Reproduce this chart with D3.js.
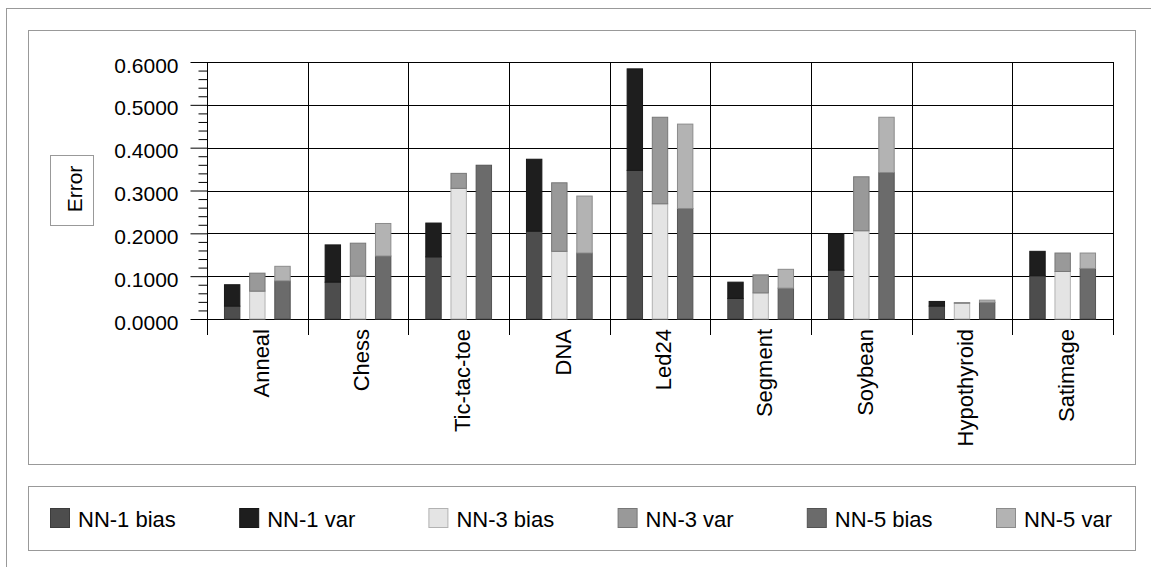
<!DOCTYPE html>
<html>
<head>
<meta charset="utf-8">
<script src="https://cdn.jsdelivr.net/npm/d3@7/dist/d3.min.js"></script>
<style>
  body { margin: 0; background: #fff; }
  svg { display: block; font-family: "Liberation Sans", Arial, sans-serif; }
</style>
</head>
<body>
<svg id="chart" width="1151" height="567"></svg>
<script>
/* datasets along the x axis */
var categories = ["Anneal", "Chess", "Tic-tac-toe", "DNA", "Led24",
	"Segment", "Soybean", "Hypothyroid", "Satimage"];

/* bias and variance parts of the error, one array per series */
var nn1Bias = [0.030, 0.086, 0.145, 0.205, 0.347, 0.048, 0.114, 0.030, 0.101];
var nn1Var  = [0.050, 0.087, 0.079, 0.168, 0.237, 0.038, 0.085, 0.011, 0.057];
var nn3Bias = [0.065, 0.100, 0.305, 0.158, 0.269, 0.061, 0.206, 0.037, 0.111];
var nn3Var  = [0.042, 0.077, 0.035, 0.160, 0.202, 0.042, 0.126, 0.001, 0.043];
var nn5Bias = [0.089, 0.147, 0.359, 0.154, 0.258, 0.072, 0.342, 0.039, 0.118];
var nn5Var  = [0.034, 0.076, 0.000, 0.133, 0.197, 0.044, 0.129, 0.005, 0.036];

var yTicks = [0, 0.1, 0.2, 0.3, 0.4, 0.5, 0.6];
var seriesNames = ["NN-1 bias", "NN-1 var", "NN-3 bias", "NN-3 var", "NN-5 bias", "NN-5 var"];
var seriesColors = ["#4d4d4d", "#1e1e1e", "#e4e4e4", "#999999", "#6b6b6b", "#b3b3b3"];

/* three stacked columns per dataset */
var groups = [
	{bias: nn1Bias, vari: nn1Var, c: 0},
	{bias: nn3Bias, vari: nn3Var, c: 2},
	{bias: nn5Bias, vari: nn5Var, c: 4}
];

var svg = d3.select("#chart");

/* frames around the chart and the legend */
svg.append("rect").attr("x", 6.5).attr("y", 8.5).attr("width", 1160).attr("height", 600)
	.style("fill", "none").style("stroke", "#999");
svg.append("rect").attr("x", 28.5).attr("y", 30.5).attr("width", 1107).attr("height", 434)
	.style("fill", "none").style("stroke", "#999");
svg.append("rect").attr("x", 28.5).attr("y", 486.5).attr("width", 1107).attr("height", 64)
	.style("fill", "none").style("stroke", "#999");

var plotLeft = 207, plotRight = 1113, plotTop = 62, plotBottom = 319;

var x = d3.scaleBand().domain(categories).range([plotLeft, plotRight]);
var xs = d3.scalePoint().domain([0, 1, 2]).range([0, x.bandwidth()]).padding(1);
var y = d3.scaleLinear().domain([0, 0.6]).range([plotBottom, plotTop]);
var barW = 15.4;

var g = svg.append("g");

/* horizontal grid lines */
g.selectAll("line.grid")
	.data(yTicks)
	.enter().append("line")
	.attr("class", "grid")
	.attr("x1", plotLeft).attr("x2", plotRight)
	.attr("y1", function(d) { return Math.round(y(d)) + 0.5; })
	.attr("y2", function(d) { return Math.round(y(d)) + 0.5; })
	.style("stroke", "#000");

/* vertical lines between datasets, running below the axis */
var bounds = categories.map(function(d) { return x(d); }).concat([plotRight]);
g.selectAll("line.bound")
	.data(bounds)
	.enter().append("line")
	.attr("class", "bound")
	.attr("x1", function(d) { return Math.round(d) + 0.5; })
	.attr("x2", function(d) { return Math.round(d) + 0.5; })
	.attr("y1", plotTop).attr("y2", plotBottom + 16)
	.style("stroke", "#000");

/* bars */
groups.forEach(function(grp, gi) {
	var cols = g.selectAll("g.col" + gi)
		.data(categories)
		.enter().append("g")
		.attr("class", "col" + gi);

	cols.append("rect")
		.attr("x", function(d) { return x(d) + xs(gi) - barW / 2; })
		.attr("width", barW)
		.attr("y", function(d, i) { return y(grp.bias[i]); })
		.attr("height", function(d, i) { return y(0) - y(grp.bias[i]); })
		.style("fill", seriesColors[grp.c])
		.style("stroke", d3.color(seriesColors[grp.c]).darker(0.7));

	cols.append("rect")
		.attr("x", function(d) { return x(d) + xs(gi) - barW / 2; })
		.attr("width", barW)
		.attr("y", function(d, i) { return y(grp.bias[i] + grp.vari[i]); })
		.attr("height", function(d, i) { return y(grp.bias[i]) - y(grp.bias[i] + grp.vari[i]); })
		.style("display", function(d, i) { return grp.vari[i] > 0 ? null : "none"; })
		.style("fill", seriesColors[grp.c + 1])
		.style("stroke", d3.color(seriesColors[grp.c + 1]).darker(0.7));
});

/* y axis with major and minor ticks */
var minor = d3.range(0, 31).map(function(i) { return i * 0.02; })
	.filter(function(v, i) { return i % 5 !== 0; });

g.append("g")
	.attr("transform", "translate(" + (plotLeft + 0.5) + ",0)")
	.call(d3.axisLeft(y).tickValues(minor).tickSize(9).tickFormat(""))
	.call(function(s) { s.select(".domain").remove(); })
	.selectAll("line").style("stroke", "#000");

var yAxis = g.append("g")
	.attr("transform", "translate(" + (plotLeft + 0.5) + ",0)")
	.call(d3.axisLeft(y).tickValues(yTicks).tickSize(17).tickPadding(12)
		.tickFormat(d3.format(".4f")));
yAxis.select(".domain").attr("d", "M0," + plotTop + "V" + (plotBottom + 16)).style("stroke", "#000");
yAxis.selectAll("line").style("stroke", "#000");
yAxis.selectAll("text")
	.attr("dy", "0.48em")
	.style("font-size", "21px")
	.style("fill", "#000")
	.style("font-family", "Liberation Sans, Arial, sans-serif");

/* rotated dataset names */
var xAxis = g.append("g")
	.attr("transform", "translate(0," + plotBottom + ")")
	.call(d3.axisBottom(x).tickSize(0).tickPadding(0));
xAxis.select(".domain").remove();
xAxis.selectAll("text")
	.attr("transform", "rotate(-90)")
	.attr("x", -10)
	.attr("y", 0)
	.attr("dy", "0.52em")
	.style("text-anchor", "end")
	.style("font-size", "22px")
	.style("fill", "#000")
	.style("font-family", "Liberation Sans, Arial, sans-serif");

/* axis title in its own box */
svg.append("rect").attr("x", 50.5).attr("y", 155.5).attr("width", 43).attr("height", 70)
	.style("fill", "#fff").style("stroke", "#999");
svg.append("text")
	.attr("transform", "translate(81.5,189) rotate(-90)")
	.style("text-anchor", "middle")
	.style("font-size", "21px")
	.text("Error");

/* legend */
var leg = svg.selectAll("g.leg")
	.data(seriesNames)
	.enter().append("g")
	.attr("class", "leg")
	.attr("transform", function(d, i) { return "translate(" + (50 + i * 189.2) + ",508)"; });

leg.append("rect")
	.attr("x", 0.5).attr("y", 0.5)
	.attr("width", 19).attr("height", 19)
	.style("fill", function(d, i) { return seriesColors[i]; })
	.style("stroke", function(d, i) { return d3.color(seriesColors[i]).darker(0.7); });

leg.append("text")
	.attr("x", 28).attr("y", 19)
	.style("font-size", "22px")
	.text(function(d) { return d; });
</script>
</body>
</html>
